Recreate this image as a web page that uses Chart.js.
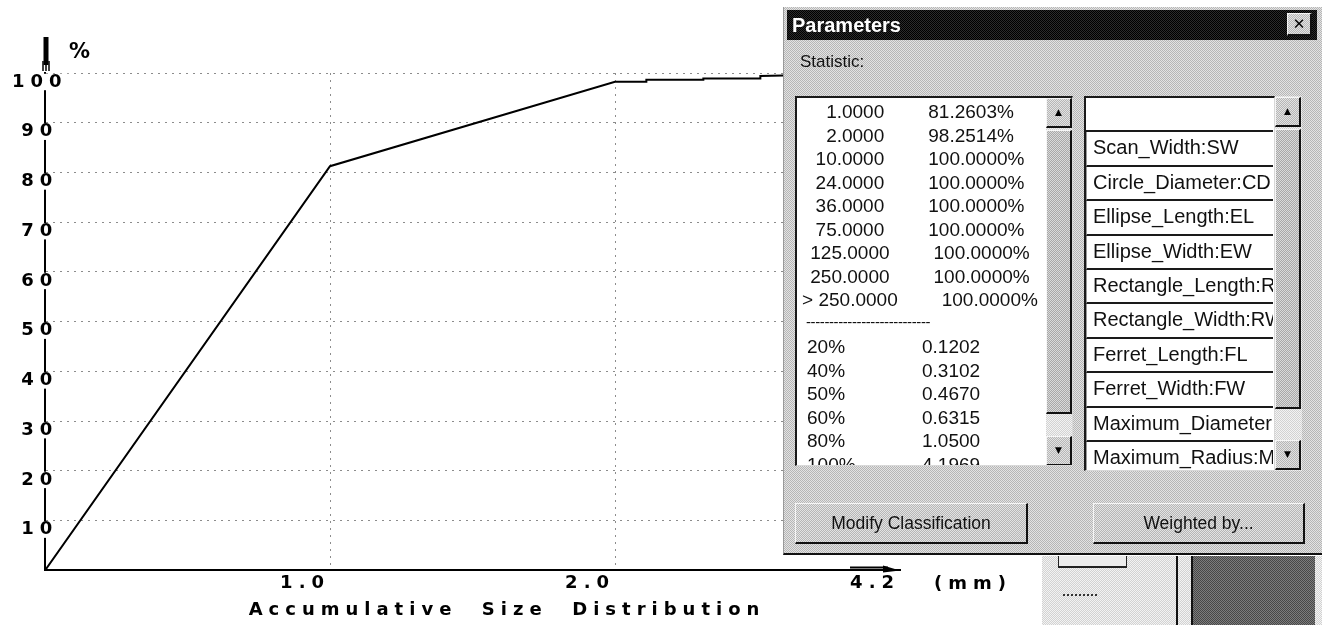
<!DOCTYPE html>
<html>
<head>
<meta charset="utf-8">
<title>Accumulative Size Distribution</title>
<script src="https://cdn.jsdelivr.net/npm/chart.js@4/dist/chart.umd.min.js"></script>
<style>
  * { box-sizing: border-box; }
  html, body { margin: 0; padding: 0; background: #fff; width: 1322px; height: 625px; overflow: hidden; position: relative;
               font-family: "Liberation Sans", Arial, sans-serif; color: #111; }
  #plot { position: absolute; left: 0; top: 0; }
  .abs { position: absolute; }
  .axis-text { position: absolute; font: bold 18px "DejaVu Sans", sans-serif; letter-spacing: 6px; color: #000; white-space: pre; line-height: 20px; }

  /* dithered window surfaces */
  .g  { background: repeating-conic-gradient(#b6b6b6 0 25%, #e3e3e3 0 50%) 0 0 / 2px 2px; }
  .gl { background: repeating-conic-gradient(#d2d2d2 0 25%, #f3f3f3 0 50%) 0 0 / 2px 2px; }
  .gt { background: repeating-conic-gradient(#a8a8a8 0 25%, #dadada 0 50%) 0 0 / 2px 2px; }
  .k  { background: repeating-conic-gradient(#000 0 25%, #2c2c2c 0 50%) 0 0 / 2px 2px; }
  .dk { background: repeating-conic-gradient(#474747 0 25%, #7c7c7c 0 50%) 0 0 / 2px 2px; }
  .raised { border-top: 1px solid #f6f6f6; border-left: 1px solid #f6f6f6; border-right: 2px solid #111; border-bottom: 2px solid #111; }
  .sunken { border-top: 2px solid #1a1a1a; border-left: 2px solid #1a1a1a; border-right: 1px solid #d8d8d8; border-bottom: 1px solid #d8d8d8; }

  #dlg { left: 783px; top: 7px; width: 539px; height: 548px; border-bottom: 2px solid #111; border-left: 1px solid #9a9a9a; }
  #cap { left: 787px; top: 10px; width: 530px; height: 30px; color: #fff; font-weight: bold; font-size: 20px; line-height: 30px; padding-left: 5px; }
  #closeBtn { left: 1287px; top: 13px; width: 25px; height: 23px; font: bold 15px "DejaVu Sans", sans-serif; line-height: 20px; text-align: center; color: #000; }
  #statLbl { left: 800px; top: 51px; font-size: 17px; line-height: 22px; }

  #leftList { left: 795px; top: 96px; width: 278px; height: 370px; background: #fff; overflow: hidden; }
  #leftRows { position: absolute; left: 0; top: 2px; width: 246px; }
  .row { position: relative; height: 23.5px; line-height: 23.5px; font-size: 19px; white-space: pre; }
  .row.cls { text-align: center; }
  .row.cls .pct { margin-left: 44px; }
  .row .pl { position: absolute; left: 10px; top: 0; }
  .row .pv { position: absolute; left: 125px; top: 0; }
  .row .dash { position: absolute; left: 9px; top: -2px; font-size: 15px; letter-spacing: -0.4px; }

  .sb { position: absolute; top: 0; width: 26px; bottom: 0; }
  .sb .btn { position: absolute; left: 0; width: 26px; height: 30px; font: 9px "DejaVu Sans", sans-serif; line-height: 27px; text-align: center; color: #000; }
  .sb .thumb { position: absolute; left: 0; width: 26px; }

  #rightList { left: 1084px; top: 96px; width: 191px; height: 375px; background: #fff; overflow: hidden; }
  .item { position: absolute; left: 0; width: 187px; height: 34.4px; line-height: 31px; font-size: 20px; padding-left: 6px;
          white-space: nowrap; overflow: hidden; background: #fff; border-bottom: 2px solid #1a1a1a; border-left: 1px solid #9a9a9a; }
  .item.sel { border-left: none; }
  #rightSb { left: 1275px; top: 96px; width: 27px; height: 375px; }

  .pbtn { position: absolute; top: 503px; height: 41px; font-size: 17.5px; line-height: 38px; text-align: center; color: #111; }

  #panel { left: 1042px; top: 556px; width: 280px; height: 69px; }
</style>
</head>
<body>
<canvas id="plot" width="1014" height="625"></canvas>

<div class="axis-text" style="left:69px; top:41px; font-size:21px; letter-spacing:0;">%</div>
<div class="axis-text" id="unitLbl" style="left:934px; top:573px;"></div>

<!-- Parameters window -->
<div id="dlg" class="abs g"></div>
<div id="cap" class="abs k">Parameters</div>
<div id="closeBtn" class="abs g raised">✕</div>
<div id="statLbl" class="abs">Statistic:</div>

<div id="leftList" class="abs sunken">
  <div id="leftRows"></div>
  <div class="sb gl" style="left:249px;">
    <div class="btn g raised" style="top:0;">▲</div>
    <div class="thumb gt raised" style="top:32px; height:284px;"></div>
    <div class="btn g raised" style="top:338px;">▼</div>
  </div>
</div>

<div id="rightList" class="abs sunken"></div>
<div id="rightSb" class="abs sb gl">
  <div class="btn g raised" style="top:1px;">▲</div>
  <div class="thumb gt raised" style="top:33px; height:280px;"></div>
  <div class="btn g raised" style="top:344px;">▼</div>
</div>

<div class="pbtn g raised" style="left:795px; width:233px;">Modify Classification</div>
<div class="pbtn g raised" style="left:1093px; width:212px;">Weighted by...</div>

<!-- application area under the window -->
<div id="panel" class="abs gl"></div>
<div class="abs" style="left:1058px; top:556px; width:69px; height:12px; border:1px solid #222; border-top:none; border-bottom:2px solid #222; background:#ececec;"></div>
<div class="abs" style="left:1063px; top:594px; width:34px; height:2px; border-top:2px dotted #333;"></div>
<div class="abs" style="left:1176px; top:556px; width:2px; height:69px; background:#111;"></div>
<div class="abs" style="left:1191px; top:556px; width:2px; height:69px; background:#111;"></div>
<div class="abs dk" style="left:1193px; top:556px; width:122px; height:69px;"></div>

<script>
// ---- cumulative curve: size classes placed on evenly spaced slots ----
const sizeSlots         = [0, 1, 2, 2.11, 2.11, 2.31, 2.31, 2.51, 2.51, 3];
const cumulativePercent = [0, 81.2603, 98.2514, 98.2514, 98.65, 98.65, 98.9, 98.9, 99.4, 100];

const xTickSlots  = [1, 2, 3];
const xTickLabels = ['1.0', '2.0', '4.2'];
const xUnit       = '(mm)';
const xTitle      = 'Accumulative  Size  Distribution';
const yTickValues = [10, 20, 30, 40, 50, 60, 70, 80, 90, 100];

// ---- statistic list ----
const classSizes    = ['1.0000', '2.0000', '10.0000', '24.0000', '36.0000', '75.0000', '125.0000', '250.0000', '> 250.0000'];
const classPercents = ['81.2603%', '98.2514%', '100.0000%', '100.0000%', '100.0000%', '100.0000%', '100.0000%', '100.0000%', '100.0000%'];
const percentileLabels = ['20%', '40%', '50%', '60%', '80%', '100%'];
const percentileValues = ['0.1202', '0.3102', '0.4670', '0.6315', '1.0500', '4.1969'];

// ---- parameter list ----
const parameterNames = ['', 'Scan_Width:SW', 'Circle_Diameter:CD', 'Ellipse_Length:EL', 'Ellipse_Width:EW',
                        'Rectangle_Length:RL', 'Rectangle_Width:RW', 'Ferret_Length:FL', 'Ferret_Width:FW',
                        'Maximum_Diameter:MD', 'Maximum_Radius:MR'];

// build the statistic rows
const rowsEl = document.getElementById('leftRows');
classSizes.forEach((s, i) => {
  const r = document.createElement('div');
  r.className = 'row cls';
  const a = document.createElement('span'); a.textContent = s;
  const b = document.createElement('span'); b.className = 'pct'; b.textContent = classPercents[i];
  r.append(a, b);
  rowsEl.appendChild(r);
});
{
  const r = document.createElement('div');
  r.className = 'row';
  const d = document.createElement('span'); d.className = 'dash'; d.textContent = '-'.repeat(27);
  r.appendChild(d);
  rowsEl.appendChild(r);
}
percentileLabels.forEach((p, i) => {
  const r = document.createElement('div');
  r.className = 'row';
  const a = document.createElement('span'); a.className = 'pl'; a.textContent = p;
  const b = document.createElement('span'); b.className = 'pv'; b.textContent = percentileValues[i];
  r.append(a, b);
  rowsEl.appendChild(r);
});

// build the parameter items
const listEl = document.getElementById('rightList');
parameterNames.forEach((n, i) => {
  const it = document.createElement('div');
  it.className = 'item' + (i === 0 ? ' sel k' : '');
  it.style.top = (i * 34.4) + 'px';
  it.textContent = n;
  listEl.appendChild(it);
});

document.getElementById('unitLbl').textContent = xUnit;

// ---- chart ----
const FONT_FAMILY = '"DejaVu Sans", sans-serif';
const LETTER_SPACING = '6px';
const GRID_COLOR = '#8c8c8c';
const axisFont = { family: FONT_FAMILY, size: 18, weight: 'bold', lineHeight: 0.8 };

// wide lettering for every label drawn on the canvas
const spacedText = {
  id: 'spacedText',
  beforeInit(chart)   { chart.ctx.letterSpacing = LETTER_SPACING; },
  beforeUpdate(chart) { chart.ctx.letterSpacing = LETTER_SPACING; },
  beforeDraw(chart)   { chart.ctx.letterSpacing = LETTER_SPACING; }
};

// arrow heads at the ends of both axes
const axisArrows = {
  id: 'axisArrows',
  afterDraw(chart) {
    const { ctx, chartArea: a } = chart;
    ctx.save();
    ctx.fillStyle = '#000';
    ctx.strokeStyle = '#000';
    ctx.lineWidth = 5;
    ctx.beginPath();
    ctx.moveTo(a.left + 1, a.top - 36);
    ctx.lineTo(a.left + 1, a.top - 8);
    ctx.stroke();
    ctx.lineWidth = 1.5;
    ctx.beginPath();
    ctx.moveTo(a.left - 2, a.top - 12); ctx.lineTo(a.left - 2, a.top - 2);
    ctx.moveTo(a.left + 1, a.top - 12); ctx.lineTo(a.left + 1, a.top - 2);
    ctx.moveTo(a.left + 4, a.top - 12); ctx.lineTo(a.left + 4, a.top - 2);
    ctx.stroke();

    const y = a.bottom;
    ctx.beginPath();
    ctx.moveTo(a.right, y);
    ctx.lineTo(a.right - 17, y - 5);
    ctx.lineTo(a.right - 17, y + 2);
    ctx.closePath();
    ctx.fill();
    ctx.lineWidth = 2;
    ctx.beginPath();
    ctx.moveTo(a.right - 50, y - 3);
    ctx.lineTo(a.right - 12, y - 3);
    ctx.stroke();
    ctx.restore();
  }
};

new Chart(document.getElementById('plot'), {
  type: 'line',
  data: {
    datasets: [{
      data: sizeSlots.map((x, i) => ({ x, y: cumulativePercent[i] })),
      borderColor: '#000',
      borderWidth: 2,
      pointRadius: 0,
      tension: 0,
      fill: false
    }]
  },
  options: {
    responsive: false,
    devicePixelRatio: 1,
    animation: false,
    events: [],
    layout: { padding: { top: 73, left: 0, right: 0, bottom: 0 } },
    plugins: {
      legend: { display: false },
      tooltip: { enabled: false },
      title: {
        display: true,
        position: 'bottom',
        text: xTitle,
        color: '#000',
        font: { family: FONT_FAMILY, size: 18, weight: 'bold', lineHeight: 1.2 },
        padding: { top: 6, bottom: 4 }
      }
    },
    scales: {
      x: {
        type: 'linear',
        min: 0,
        max: 3,
        afterBuildTicks: s => { s.ticks = xTickSlots.map(v => ({ value: v })); },
        afterFit: s => { s.height = 23; },
        ticks: {
          align: 'end',
          padding: 6,
          color: '#000',
          font: axisFont,
          maxRotation: 0,
          autoSkip: false,
          callback: (v, i) => xTickLabels[i]
        },
        grid: {
          drawTicks: false,
          lineWidth: 1,
          color: c => (c.tick && c.tick.value < 3) ? GRID_COLOR : 'rgba(0,0,0,0)'
        },
        border: { display: true, color: '#000', width: 2, dash: [2, 5] }
      },
      y: {
        type: 'linear',
        min: 0,
        max: 100,
        afterBuildTicks: s => { s.ticks = yTickValues.map(v => ({ value: v })); },
        afterFit: s => { s.width = 45; },
        ticks: {
          mirror: true,
          crossAlign: 'center',
          padding: -33,
          labelOffset: 9,
          color: '#000',
          font: axisFont,
          showLabelBackdrop: true,
          backdropColor: '#fff',
          backdropPadding: { top: 1, bottom: 1, left: 2, right: 2 },
          callback: v => String(v)
        },
        grid: { drawTicks: false, lineWidth: 1, color: GRID_COLOR },
        border: { display: true, color: '#000', width: 2, dash: [2, 5] }
      },
      yRight: {
        position: 'right',
        display: true,
        afterFit: s => { s.width = 114; },
        ticks: { display: false },
        grid: { display: false, drawTicks: false },
        border: { display: false }
      }
    }
  },
  plugins: [spacedText, axisArrows]
});
</script>
</body>
</html>
